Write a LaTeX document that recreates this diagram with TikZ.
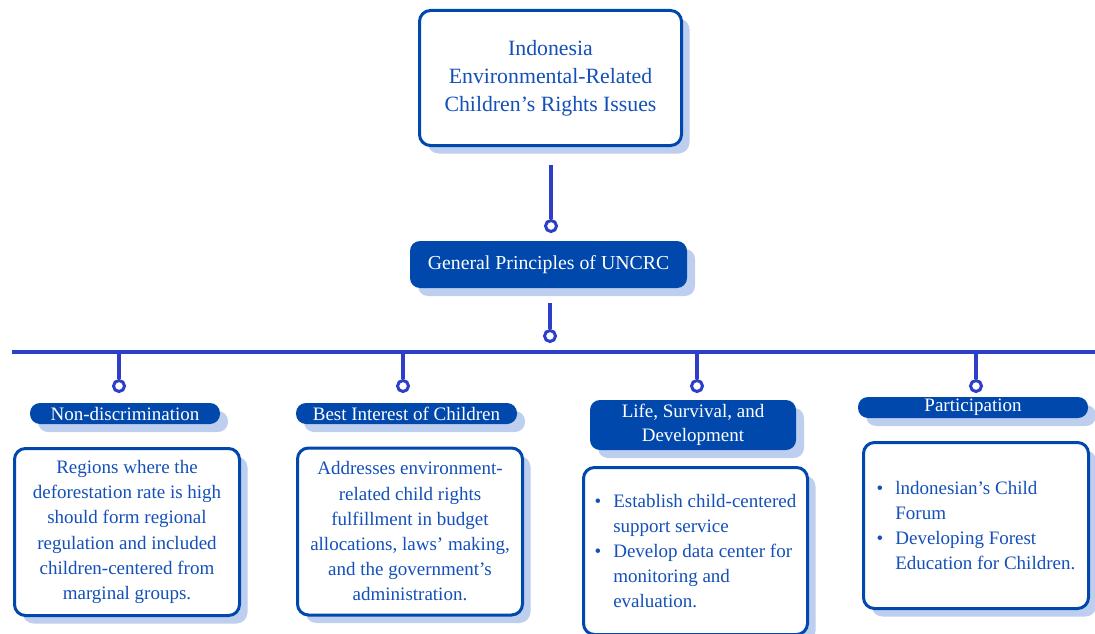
\documentclass[tikz,border=0pt]{standalone}
\usepackage{fontspec}
\setmainfont{Liberation Serif}
\usetikzlibrary{shadows}
\definecolor{navy}{RGB}{0,72,171}
\definecolor{linkc}{RGB}{45,62,200}
\definecolor{shade}{RGB}{190,206,238}
\definecolor{txtc}{RGB}{20,80,185}
\newcommand{\bul}{\textbullet\hspace{12pt}}
\newcommand{\nobul}{\hphantom{\textbullet}\hspace{12pt}}
\tikzset{
  shd/.style={drop shadow={shadow xshift=8pt,shadow yshift=-8pt,fill=shade,opacity=1}},
  card/.style={shd,draw=navy,line width=3pt,fill=white,rounded corners=11pt,text=txtc,
    align=center,inner sep=0pt,font=\fontsize{19}{25.2}\selectfont},
  tag/.style={shd,fill=navy,rounded corners=10pt,text=white,align=center,inner sep=0pt,
    font=\fontsize{19}{24}\selectfont},
  link/.style={draw=linkc,line width=3.5pt},
  knob/.style={circle,draw=linkc,line width=3pt,fill=white,minimum size=11pt,inner sep=0pt}
}
\begin{document}
\begin{tikzpicture}[x=1pt,y=-1pt]
  \useasboundingbox (0,0) rectangle (1095,634);
  % top of the tree
  \node[card,minimum width=262,minimum height=135,font=\fontsize{21.8}{28}\selectfont]
    (issue) at (550.5,78) {Indonesia\\Environmental-Related\\Children’s Rights Issues};
  \node[tag,minimum width=277,minimum height=47,font=\fontsize{19.8}{24}\selectfont]
    (gp) at (548.5,264.5) {General Principles of UNCRC};
  \coordinate (t1) at (551,165);
  \node[knob] (k1) at (551,226) {};
  \draw[link] (t1) -- (k1);
  \coordinate (t2) at (550,303);
  \node[knob] (k2) at (550,336) {};
  \draw[link] (t2) -- (k2);
  % bar
  \coordinate (barL) at (12,352);
  \coordinate (barR) at (1095,352);
  \draw[link] (barL) -- (barR);
  \foreach \i/\x in {1/119,2/403,3/697,4/976}{
    \coordinate (d\i) at (\x,352);
    \node[knob] (e\i) at (\x,386) {};
    \draw[link] (d\i) -- (e\i);
  }
  % principles
  \node[tag,minimum width=190,minimum height=21] (nd) at (125,413.5) {Non-discrimination};
  \node[tag,minimum width=221,minimum height=21] (bi) at (406.5,413.5) {Best Interest of Children};
  \node[tag,minimum width=206,minimum height=50] (ls) at (693,425) {Life, Survival, and\\Development};
  \node[tag,minimum width=230,minimum height=21] (pa) at (973,407.5) {Participation};
  % contents
  \node[card,minimum width=225,minimum height=167] (b1) at (127,532)
    {Regions where the\\deforestation rate is high\\should form regional\\regulation and included\\children-centered from\\marginal groups.};
  \node[card,minimum width=225,minimum height=167] (b2) at (410,531.5)
    {Addresses environment-\\related child rights\\fulfillment in budget\\allocations, laws’ making,\\and the government’s\\administration.};
  \node[card,minimum width=224,minimum height=167,align=left] (b3) at (695.5,551)
    {\bul Establish child-centered\\\nobul support service\\\bul Develop data center for\\\nobul monitoring and\\\nobul evaluation.};
  \node[card,minimum width=225,minimum height=166,align=left] (b4) at (976,525.5)
    {\bul lndonesian’s Child\\\nobul Forum\\\bul Developing Forest\\\nobul Education for Children.};
\end{tikzpicture}
\end{document}
